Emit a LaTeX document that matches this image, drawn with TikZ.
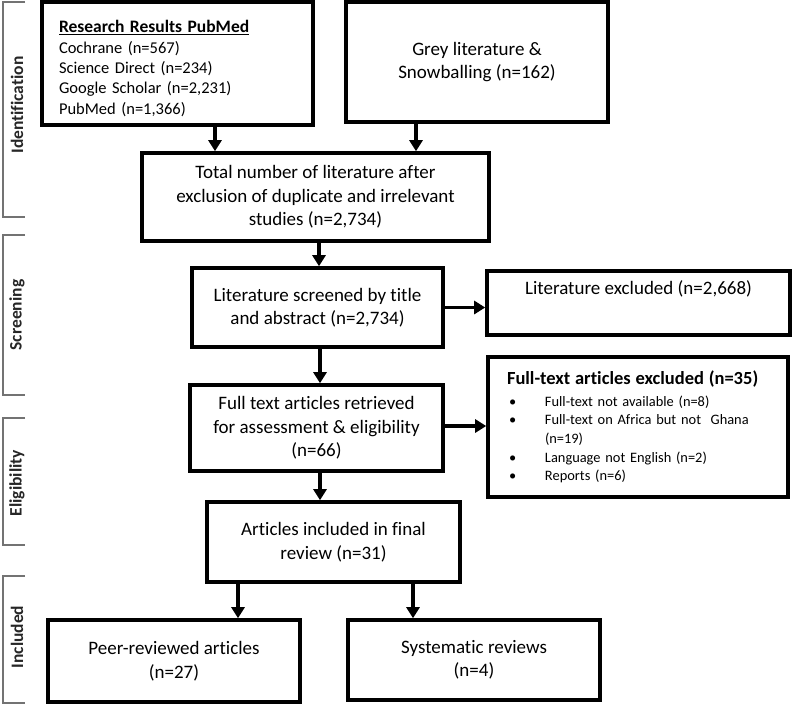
\documentclass[tikz,border=0pt]{standalone}
\usepackage{fontspec}
\setmainfont{Carlito}[Ligatures=CommonOff]
\usetikzlibrary{arrows.meta}
\tikzset{
  box/.style={draw, line width=3.6pt, rectangle, inner sep=0pt, align=center,
    font=\fontsize{19}{23.5}\selectfont},
  arr/.style={line width=3.6pt, -{Triangle[length=11pt,width=13pt]}},
  brk/.style={draw=black!55, line width=1.1pt},
  side/.style={rotate=90, font=\bfseries\fontsize{17.5}{20}\selectfont, text=black!85},
}
\begin{document}
\begin{tikzpicture}[x=1pt,y=-1pt]
\useasboundingbox (0,0) rectangle (794,704);
% boxes
\node[box, minimum width=271pt, minimum height=123pt, align=left, text width=237pt,
  font=\fontsize{16.5}{20.3}\selectfont] (b1) at (177.5,63.5)
  {\mbox{}\\[2pt]{\bfseries\fontsize{17.5}{20.3}\selectfont\underline{Research Results PubMed}}\\
   Cochrane (n=567)\\ Science Direct (n=234)\\ Google Scholar (n=2,231)\\ PubMed (n=1,366)};
\node[box, minimum width=262pt, minimum height=120pt] (b2) at (477,62)
  {Grey literature \&\\ Snowballing (n=162)};
\node[box, minimum width=347pt, minimum height=88pt] (b3) at (315.5,197)
  {Total number of literature after\\ exclusion of duplicate and irrelevant\\ studies (n=2,734)};
\node[box, minimum width=251pt, minimum height=79pt] (b4) at (317.5,307.5)
  {Literature screened by title\\ and abstract (n=2,734)};
\node[box, minimum width=303pt, minimum height=64pt] (b5) at (638.5,303)
  {Literature excluded (n=2,668)\\ \strut};
\node[box, minimum width=253pt, minimum height=86pt] (b6) at (316.5,428)
  {Full text articles retrieved\\ for assessment \& eligibility\\ (n=66)};
\node[box, minimum width=300pt, minimum height=140pt, align=left, text width=262pt,
  font=\fontsize{14.4}{18.6}\selectfont] (b7) at (638,427)
  {{\bfseries\fontsize{18.5}{21}\selectfont Full-text articles excluded (n=35)}\\[3pt]
   \hspace*{2pt}\makebox[36pt][l]{\textbullet}Full-text not available (n=8)\\
   \hspace*{2pt}\makebox[36pt][l]{\textbullet}Full-text on Africa but not~ Ghana\\
   \hspace*{38pt}(n=19)\\
   \hspace*{2pt}\makebox[36pt][l]{\textbullet}Language not English (n=2)\\
   \hspace*{2pt}\makebox[36pt][l]{\textbullet}Reports (n=6)};
\node[box, minimum width=253pt, minimum height=80pt] (b8) at (333.5,542)
  {Articles included in final\\ review (n=31)};
\node[box, minimum width=252pt, minimum height=82pt] (b9) at (174,661)
  {Peer-reviewed articles\\ (n=27)};
\node[box, minimum width=252pt, minimum height=80pt] (b10) at (474,660)
  {Systematic reviews\\ (n=4)};
% arrows
\draw[arr] ([xshift=37.5pt]b1.south) -- ([xshift=37.5pt]b1.south |- b3.north);
\draw[arr] ([xshift=-61pt]b2.south) -- ([xshift=-61pt]b2.south |- b3.north);
\draw[arr] ([xshift=3.5pt]b3.south) -- ([xshift=3.5pt]b3.south |- b4.north);
\draw[arr] (b4.east) -- (b4.east -| b5.west);
\draw[arr] ([xshift=2.5pt]b4.south) -- ([xshift=2.5pt]b4.south |- b6.north);
\draw[arr] ([yshift=2pt]b6.east) -- ([yshift=2pt]b6.east -| b7.west);
\draw[arr] ([xshift=3.5pt]b6.south) -- ([xshift=3.5pt]b6.south |- b8.north);
\draw[arr] ([xshift=-95.5pt]b8.south) -- ([xshift=-95.5pt]b8.south |- b9.north);
\draw[arr] ([xshift=79.5pt]b8.south) -- ([xshift=79.5pt]b8.south |- b10.north);
% stage brackets
\draw[brk] (25,2) -- (3,2) -- (3,217) -- (25,217);
\draw[brk] (25,235) -- (3,235) -- (3,395) -- (25,395);
\draw[brk] (25,418) -- (3,418) -- (3,545) -- (25,545);
\draw[brk] (25,576) -- (3,576) -- (3,703) -- (25,703);
\node[side] (l1) at (17,105) {Identification};
\node[side] (l2) at (17,315) {Screening};
\node[side] (l3) at (17,483) {Eligibility};
\node[side] (l4) at (17,637) {Included};
\end{tikzpicture}
\end{document}
